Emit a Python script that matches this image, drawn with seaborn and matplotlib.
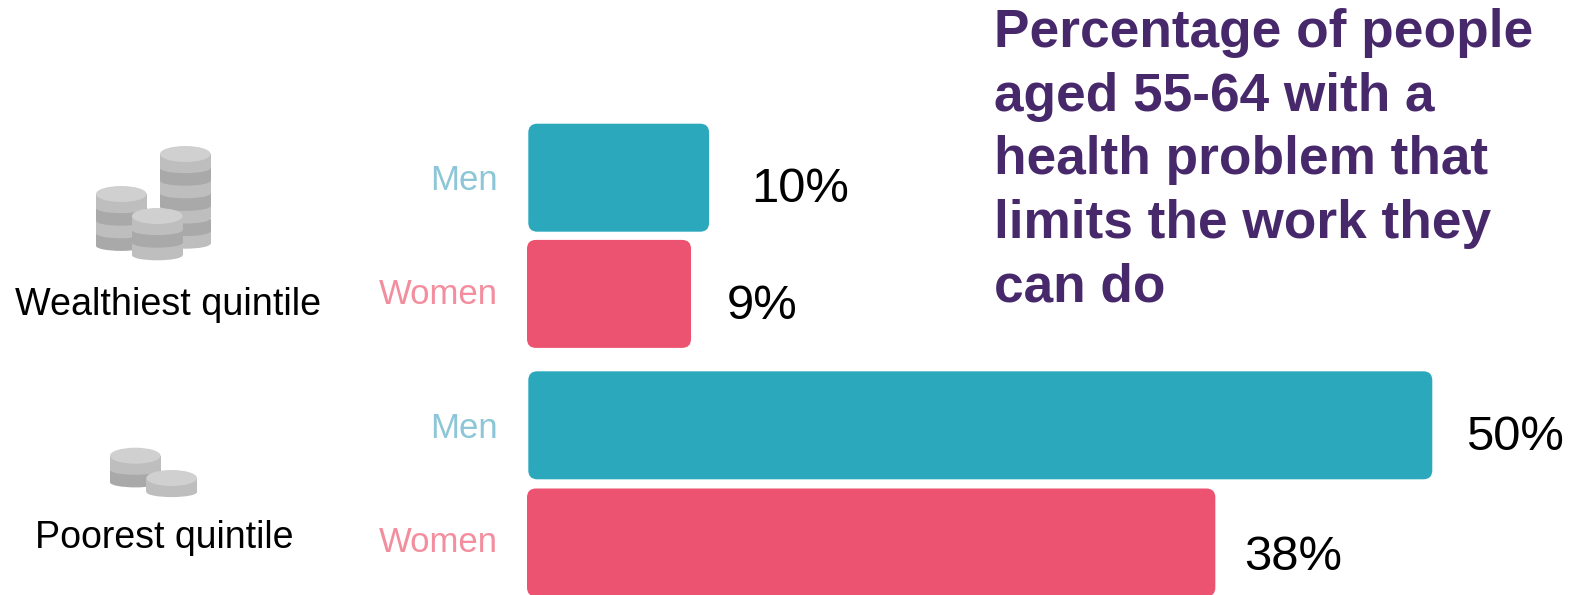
import matplotlib
matplotlib.use("Agg")
import matplotlib.pyplot as plt
from matplotlib.patches import Ellipse, FancyBboxPatch, Rectangle
import pandas as pd
import seaborn as sns

groups = ["Wealthiest quintile", "Wealthiest quintile", "Poorest quintile", "Poorest quintile"]
genders = ["Men", "Women", "Men", "Women"]
values = [10, 9, 50, 38]
title_lines = ["Percentage of people", "aged 55-64 with a", "health problem that",
               "limits the work they", "can do"]

# Layout, in pixels of the final image
W, H = 1573, 595
ROW_CENTRES = [177.7, 293.9, 425.3, 542.5]
BAR_HEIGHT = 108
ZERO_X = 528.3
PX_PER_POINT = 18.08
LABEL_GAP = {0: 42, 1: 37, 2: 34, 3: 30}
NAME_Y = [181, 295, 429, 543]
VALUE_Y = [190, 306.5, 438, 557]

TEAL, PINK = "#2CA8BC", "#EC5370"
TEAL_TEXT, PINK_TEXT = "#8DC6D6", "#F28E9E"
PURPLE = "#47296B"
COIN_TOP, COIN_LIGHT, COIN_DARK = "#D0D0D0", "#BEBEBE", "#A9A9A9"

sns.set_theme(style="white")
plt.rcParams["font.family"] = ["Liberation Sans", "DejaVu Sans"]

fig = plt.figure(figsize=(W / 100, H / 100), dpi=100)

# Data axes: x in percent, y in image pixels
ax = fig.add_axes([ZERO_X / W, 0, PX_PER_POINT * 50 / W, 1])
df = pd.DataFrame({"group": groups, "gender": genders, "value": values, "row": ROW_CENTRES})
sns.barplot(data=df, x="value", y="row", hue="gender", hue_order=["Men", "Women"],
            palette={"Men": TEAL, "Women": PINK}, saturation=1, orient="h", native_scale=True,
            dodge=False, width=BAR_HEIGHT / (ROW_CENTRES[1] - ROW_CENTRES[0]),
            legend=False, ax=ax)
ax.set_xlim(0, 50)
ax.set_ylim(H, 0)
ax.axis("off")

# Overlay in image pixels for rounded bars, icons and text
ov = fig.add_axes([0, 0, 1, 1])
ov.set_xlim(0, W)
ov.set_ylim(H, 0)
ov.axis("off")

# Swap the square bars for rounded ones of the same size
for bar in list(ax.patches):
    if bar.get_width() <= 0:
        continue
    is_women = bar.get_facecolor()[0] > 0.5
    x0 = ZERO_X + bar.get_x() * PX_PER_POINT - (1.3 if is_women else 0)
    w = ZERO_X + bar.get_width() * PX_PER_POINT - x0
    y0 = min(bar.get_y(), bar.get_y() + bar.get_height())
    h = abs(bar.get_height())
    r = 9
    ov.add_patch(FancyBboxPatch((x0 + r, y0 + r), w - 2 * r, h - 2 * r,
                                boxstyle=f"round,pad={r},rounding_size={r}",
                                fc=bar.get_facecolor(), ec="none"))
    bar.set_visible(False)

# Row labels and value labels
for i, (g, v) in enumerate(zip(genders, values)):
    ov.text(498, NAME_Y[i], g, ha="right", va="center",
            fontsize=25, color=TEAL_TEXT if g == "Men" else PINK_TEXT)
    end = ZERO_X + v * PX_PER_POINT - (1.3 if g == "Women" else 0)
    ov.text(end + LABEL_GAP[i], VALUE_Y[i], f"{v}%", ha="left", va="center",
            fontsize=35.3, color="black")


def coin_stack(cx, top_y, bands, rx=25.3, ry=8, edge_ry=5, band_h=12.6):
    """Stack of coins seen from above, with alternating edge shades."""
    for k in range(bands - 1, -1, -1):
        shade = COIN_LIGHT if k % 2 == 0 else COIN_DARK
        y = top_y + k * band_h + 1.5
        ov.add_patch(Ellipse((cx, y + band_h), 2 * rx, 2 * edge_ry, fc=shade, ec="none"))
        ov.add_patch(Rectangle((cx - rx, top_y if k == 0 else y), 2 * rx,
                               band_h + (y - top_y if k == 0 else 0), fc=shade, ec="none"))
    ov.add_patch(Ellipse((cx, top_y), 2 * rx, 2 * ry, fc=COIN_TOP, ec="none"))


coin_stack(185.3, 154, 7)
coin_stack(121.3, 194, 4)
coin_stack(157.3, 216, 3)
coin_stack(135.3, 455.7, 2)
coin_stack(171.7, 478, 1)

ov.text(168.5, 305, groups[0], ha="center", va="center", fontsize=27.2, color="black")
ov.text(164, 538, groups[2], ha="center", va="center", fontsize=27, color="black")

# Heading, one text per line
for i, line in enumerate(title_lines):
    ov.text(994, 33 + i * 63.7, line, ha="left", va="center",
            fontsize=38.3, fontweight="bold", color=PURPLE)

fig.savefig("out.png", dpi=100)
